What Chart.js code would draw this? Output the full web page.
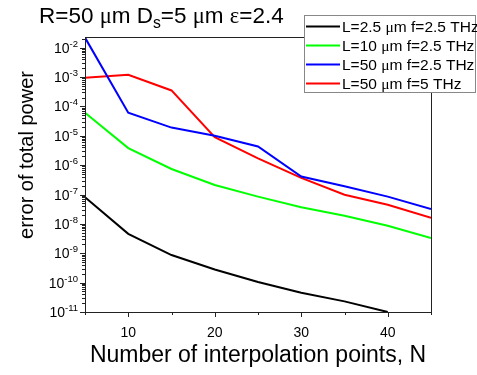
<!DOCTYPE html>
<html>
<head>
<meta charset="utf-8">
<script src="https://cdn.jsdelivr.net/npm/chart.js@4/dist/chart.umd.min.js"></script>
<style>
  html,body{margin:0;padding:0;background:#fff;}
  #wrap{width:477px;height:375px;position:relative;}
</style>
</head>
<body>
<div id="wrap"><canvas id="chart" width="477" height="375"></canvas></div>
<script>
// values
const nPoints = [5, 10, 15, 20, 25, 30, 35, 40, 45];
const errL25f25 = [8.1e-8, 4.6e-9, 8.7e-10, 2.8e-10, 1.05e-10, 4.5e-11, 2.3e-11, 1.0e-11];
const errL10f25 = [6.1e-5, 3.8e-6, 7.4e-7, 2.1e-7, 8.5e-8, 3.7e-8, 1.9e-8, 8.7e-9, 3.3e-9];
const errL50f25 = [2.2e-2, 6.1e-5, 1.9e-5, 1.0e-5, 4.3e-6, 4.1e-7, 1.9e-7, 8.5e-8, 3.2e-8];
const errL50f5  = [9.5e-4, 1.2e-3, 3.5e-4, 8.9e-6, 1.7e-6, 3.7e-7, 9.8e-8, 4.5e-8, 1.6e-8];
const seriesLabels = ['L=2.5 μm f=2.5 THz', 'L=10 μm f=2.5 THz', 'L=50 μm f=2.5 THz', 'L=50 μm f=5 THz'];
const seriesColors = ['#000000', '#00ff00', '#0000ff', '#ff0000'];
const xMajorTicks = [10, 20, 30, 40];
const xMinorTicks = [5, 15, 25, 35, 45];
const yDecades = [-11, -10, -9, -8, -7, -6, -5, -4, -3, -2];

const SANS = '"Liberation Sans", Arial, sans-serif';
const SERIF = '"Liberation Serif", "Times New Roman", serif';

const toPts = vals => vals.map((v,i)=>({x:nPoints[i], y:v}));

// draw text where μ and ε use a serif face, like the original
function mixedText(ctx, parts, x, y, size){
  ctx.textAlign = 'left';
  let cx = x;
  parts.forEach(p=>{
    const sz = p.sub ? size*0.7 : size;
    ctx.font = `${sz}px ${p.serif ? SERIF : SANS}`;
    ctx.fillText(p.t, cx, y + (p.sub ? size*0.22 : 0));
    cx += ctx.measureText(p.t).width;
  });
  return cx - x;
}
function splitGreek(s){
  return s.split(/([με])/).filter(Boolean).map(t=>({t, serif:/[με]/.test(t)}));
}

const decor = {
  id:'decor',
  afterDraw(chart){
    const ctx = chart.ctx, xs = chart.scales.x, ys = chart.scales.y;
    const {left,right,top,bottom} = chart.chartArea;
    ctx.save();
    ctx.fillStyle = '#000';
    ctx.strokeStyle = '#222';
    ctx.lineWidth = 1;
    // frame
    ctx.strokeRect(Math.round(left)+0.5, Math.round(top)+0.5, Math.round(right-left), Math.round(bottom-top));

    // x ticks
    ctx.beginPath();
    xMajorTicks.forEach(v=>{ const x=Math.round(xs.getPixelForValue(v))+0.5; ctx.moveTo(x,bottom); ctx.lineTo(x,bottom+5); });
    xMinorTicks.forEach(v=>{ const x=Math.round(xs.getPixelForValue(v))+0.5; ctx.moveTo(x,bottom); ctx.lineTo(x,bottom+3); });
    // y ticks (decades + log minors)
    yDecades.forEach(d=>{
      const y=Math.round(ys.getPixelForValue(10**d))+0.5;
      ctx.moveTo(left,y); ctx.lineTo(left-5,y);
      for(let m=2;m<=9;m++){
        const v=m*10**d; if(v>ys.max) break;
        const ym=Math.round(ys.getPixelForValue(v))+0.5;
        ctx.moveTo(left,ym); ctx.lineTo(left-3,ym);
      }
    });
    ctx.stroke();

    // x tick labels
    ctx.font = `14px ${SANS}`;
    ctx.textAlign = 'center'; ctx.textBaseline = 'alphabetic';
    xMajorTicks.forEach(v=> ctx.fillText(String(v), xs.getPixelForValue(v), 337));

    // y tick labels 10^d
    yDecades.forEach(d=>{
      const y = ys.getPixelForValue(10**d);
      ctx.font = `9.5px ${SANS}`;
      const sup = String(d);
      const sw = ctx.measureText(sup).width;
      const xEnd = left - 7;
      ctx.textAlign='left'; ctx.textBaseline='alphabetic';
      ctx.fillText(sup, xEnd - sw, y - 1);
      ctx.font = `14px ${SANS}`;
      ctx.textAlign='right';
      ctx.fillText('10', xEnd - sw, y + 5);
    });

    // axis titles
    ctx.font = `23px ${SANS}`;
    ctx.textAlign='center'; ctx.textBaseline='alphabetic';
    ctx.fillText('Number of interpolation points, N', (left+right)/2, 362);
    ctx.save();
    ctx.font = `20px ${SANS}`;
    ctx.translate(33, 155);
    ctx.rotate(-Math.PI/2);
    ctx.fillText('error of total power', 0, 0);
    ctx.restore();

    // title
    ctx.textBaseline='alphabetic';
    mixedText(ctx, [
      {t:'R=50 '}, {t:'μ', serif:true}, {t:'m D'}, {t:'s', sub:true},
      {t:'=5 '}, {t:'μ', serif:true}, {t:'m '}, {t:'ε', serif:true}, {t:'=2.4'}
    ], 39, 23, 22.5);

    // legend
    const lx=304, ly=15, lw=171, lh=77;
    ctx.fillStyle='#fff';
    ctx.fillRect(lx, ly, lw, lh);
    ctx.strokeStyle='#888';
    ctx.lineWidth=1;
    ctx.strokeRect(lx+0.5, ly+0.5, lw, lh);
    chart.data.datasets.forEach((ds,i)=>{
      const cy = 26.5 + i*19;
      ctx.strokeStyle = ds.borderColor; ctx.lineWidth = 2;
      ctx.beginPath(); ctx.moveTo(306, cy); ctx.lineTo(340, cy); ctx.stroke();
      ctx.fillStyle='#000'; ctx.textBaseline='middle';
      mixedText(ctx, splitGreek(ds.label), 342, cy+1, 15.5);
    });
    ctx.restore();
  }
};

new Chart(document.getElementById('chart'), {
  type:'line',
  data:{
    datasets:[errL25f25, errL10f25, errL50f25, errL50f5].map((vals,i)=>({
      label: seriesLabels[i],
      data: toPts(vals),
      borderColor: seriesColors[i],
      borderWidth: 2,
      pointRadius: 0,
      tension: 0,
      fill:false
    }))
  },
  options:{
    responsive:false,
    animation:false,
    layout:{padding:{left:85, right:46, top:37, bottom:63}},
    plugins:{legend:{display:false}, tooltip:{enabled:false}},
    scales:{
      x:{type:'linear', min:5, max:45, display:false},
      y:{type:'logarithmic', min:1e-11, max:0.0231, display:false}
    }
  },
  plugins:[decor]
});
</script>
</body>
</html>
